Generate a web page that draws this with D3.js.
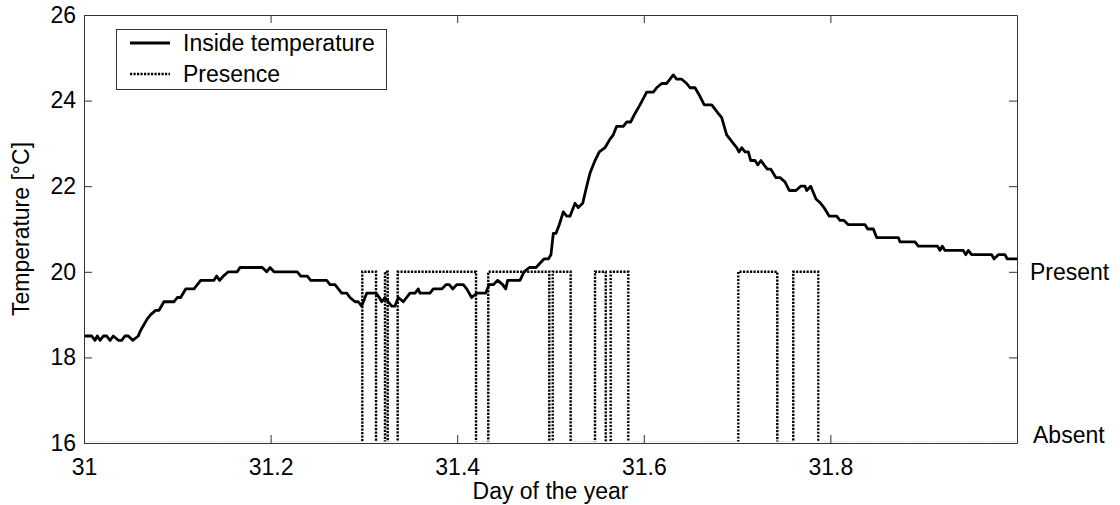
<!DOCTYPE html>
<html>
<head>
<meta charset="utf-8">
<script src="https://cdn.jsdelivr.net/npm/d3@7"></script>
<style>
  body { margin: 0; background: #fff; }
  text { font-family: "Liberation Sans", Arial, Helvetica, sans-serif; }
</style>
</head>
<body>
<div id="chart"></div>
<script>
var width = 1120;
var height = 505;

// Inside temperature (day of year, degC)
var tempDay = [
  31.0000, 31.0083, 31.0118, 31.0143, 31.0172, 31.0207, 31.0243, 31.0279, 31.0314, 31.0368,
  31.0404, 31.0439, 31.0475, 31.0522, 31.0582, 31.0600, 31.0625, 31.0678, 31.0715, 31.0768,
  31.0804, 31.0857, 31.0965, 31.1000, 31.1036, 31.1090, 31.1179, 31.1251, 31.1393, 31.1422,
  31.1454, 31.1493, 31.1547, 31.1643, 31.1672, 31.1911, 31.1958, 31.1994, 31.2036, 31.2286,
  31.2323, 31.2393, 31.2430, 31.2601, 31.2637, 31.2690, 31.2726, 31.2762, 31.2816, 31.2851,
  31.2905, 31.2940, 31.2976, 31.3030, 31.3101, 31.3130, 31.3165, 31.3191, 31.3226, 31.3261,
  31.3298, 31.3333, 31.3369, 31.3422, 31.3494, 31.3548, 31.3583, 31.3601, 31.3708, 31.3744,
  31.3834, 31.3880, 31.3915, 31.3952, 31.3995, 31.4065, 31.4102, 31.4155, 31.4209, 31.4305,
  31.4341, 31.4387, 31.4434, 31.4488, 31.4520, 31.4541, 31.4673, 31.4716, 31.4773, 31.4845,
  31.4887, 31.4930, 31.4976, 31.5005, 31.5030, 31.5059, 31.5094, 31.5137, 31.5174, 31.5209,
  31.5263, 31.5298, 31.5345, 31.5388, 31.5423, 31.5477, 31.5523, 31.5584, 31.5638, 31.5673,
  31.5709, 31.5780, 31.5817, 31.5859, 31.5906, 31.5959, 31.6031, 31.6102, 31.6138, 31.6192,
  31.6245, 31.6281, 31.6316, 31.6352, 31.6406, 31.6460, 31.6495, 31.6549, 31.6602, 31.6648,
  31.6728, 31.6798, 31.6835, 31.6888, 31.6924, 31.6959, 31.6996, 31.7020, 31.7049, 31.7085,
  31.7120, 31.7146, 31.7192, 31.7221, 31.7256, 31.7288, 31.7324, 31.7360, 31.7417, 31.7460,
  31.7513, 31.7559, 31.7631, 31.7681, 31.7728, 31.7746, 31.7789, 31.7846, 31.7896, 31.7931,
  31.7988, 31.8067, 31.8103, 31.8146, 31.8192, 31.8371, 31.8400, 31.8460, 31.8496, 31.8728,
  31.8746, 31.8907, 31.8942, 31.9146, 31.9175, 31.9199, 31.9228, 31.9424, 31.9450, 31.9478,
  31.9514, 31.9729, 31.9753, 31.9800, 31.9871, 31.9896, 32.0000
];
var tempValue = [
  18.5, 18.5, 18.4, 18.5, 18.4, 18.5, 18.5, 18.4, 18.5, 18.4,
  18.4, 18.5, 18.5, 18.4, 18.5, 18.6, 18.7, 18.9, 19.0, 19.1,
  19.1, 19.3, 19.3, 19.4, 19.4, 19.6, 19.6, 19.8, 19.8, 19.9,
  19.8, 19.9, 20.0, 20.0, 20.1, 20.1, 20.0, 20.1, 20.0, 20.0,
  19.9, 19.9, 19.8, 19.8, 19.7, 19.7, 19.6, 19.5, 19.5, 19.4,
  19.3, 19.3, 19.2, 19.5, 19.5, 19.5, 19.4, 19.3, 19.4, 19.3,
  19.2, 19.2, 19.4, 19.3, 19.5, 19.5, 19.6, 19.5, 19.5, 19.6,
  19.6, 19.7, 19.7, 19.6, 19.7, 19.7, 19.6, 19.4, 19.5, 19.5,
  19.7, 19.7, 19.8, 19.7, 19.6, 19.8, 19.8, 20.0, 20.1, 20.1,
  20.2, 20.3, 20.3, 20.4, 20.9, 20.9, 21.1, 21.4, 21.3, 21.3,
  21.6, 21.5, 21.6, 22.0, 22.3, 22.6, 22.8, 22.9, 23.1, 23.2,
  23.4, 23.4, 23.5, 23.5, 23.7, 23.9, 24.2, 24.2, 24.3, 24.4,
  24.4, 24.5, 24.6, 24.5, 24.5, 24.4, 24.3, 24.3, 24.1, 23.9,
  23.9, 23.7, 23.6, 23.2, 23.1, 23.0, 22.9, 22.8, 22.9, 22.8,
  22.8, 22.6, 22.6, 22.5, 22.6, 22.5, 22.4, 22.4, 22.2, 22.2,
  22.1, 21.9, 21.9, 22.0, 22.0, 21.9, 22.0, 21.7, 21.6, 21.5,
  21.3, 21.3, 21.2, 21.2, 21.1, 21.1, 21.0, 21.0, 20.8, 20.8,
  20.7, 20.7, 20.6, 20.6, 20.5, 20.6, 20.5, 20.5, 20.4, 20.5,
  20.4, 20.4, 20.3, 20.4, 20.4, 20.3, 20.3
];

// Presence intervals (day of year): person arrives / leaves
var presenceOn  = [31.2983, 31.3226, 31.3362, 31.4333, 31.5024, 31.5477, 31.5645, 31.7013, 31.7602];
var presenceOff = [31.3130, 31.3255, 31.4202, 31.4987, 31.5216, 31.5592, 31.5834, 31.7431, 31.7870];
var presentLevel = 20;
var absentLevel = 16;

var xTicks = [31, 31.2, 31.4, 31.6, 31.8];
var yTicks = [16, 18, 20, 22, 24, 26];
var legendLabels = ["Inside temperature", "Presence"];

var margin = { left: 84, right: 1017, top: 15, bottom: 443 };

var svg = d3.select("#chart")
  .append("svg")
  .attr("width", width)
  .attr("height", height);

var xScale = d3.scaleLinear().domain([31, 32]).range([margin.left, margin.right]);
var yScale = d3.scaleLinear().domain([16, 26]).range([margin.bottom, margin.top]);

// clip so the "absent" stretch sits under the bottom axis line
svg.append("defs").append("clipPath")
  .attr("id", "clip")
  .append("rect")
  .attr("x", margin.left)
  .attr("y", margin.top)
  .attr("width", margin.right - margin.left)
  .attr("height", margin.bottom - margin.top - 1.5);

// build the step curve from the intervals
var presence = [[31, absentLevel]];
presenceOn.forEach(function (t, i) {
  presence.push([t, absentLevel], [t, presentLevel],
    [presenceOff[i], presentLevel], [presenceOff[i], absentLevel]);
});
presence.push([32, absentLevel]);

var temperature = tempDay.map(function (d, i) { return [d, tempValue[i]]; });

var line = d3.line()
  .x(function (d) { return xScale(d[0]); })
  .y(function (d) { return yScale(d[1]); });

var plot = svg.append("g").attr("clip-path", "url(#clip)");

plot.append("path")
  .datum(presence)
  .attr("fill", "none")
  .attr("stroke", "#000")
  .attr("stroke-width", 2.4)
  .attr("stroke-dasharray", "2.2,1.3")
  .attr("d", line);

plot.append("path")
  .datum(temperature)
  .attr("fill", "none")
  .attr("stroke", "#000")
  .attr("stroke-width", 2.8)
  .attr("stroke-linejoin", "round")
  .attr("d", line);

// axes, ticks pointing inward on all four sides (box)
var axisColor = "#333";
function styleAxis(g) {
  g.selectAll("path, line").attr("stroke", axisColor);
  g.selectAll("text").attr("fill", "#000").style("font-size", "23px");
  g.attr("font-family", null);
}

svg.append("g")
  .attr("transform", "translate(0," + margin.bottom + ")")
  .call(d3.axisBottom(xScale).tickValues(xTicks).tickFormat(d3.format("~g"))
    .tickSizeInner(-8).tickSizeOuter(0).tickPadding(16))
  .call(styleAxis);

svg.append("g")
  .attr("transform", "translate(0," + margin.top + ")")
  .call(d3.axisTop(xScale).tickValues(xTicks).tickFormat("")
    .tickSizeInner(-8).tickSizeOuter(0))
  .call(styleAxis);

svg.append("g")
  .attr("transform", "translate(" + margin.left + ",0)")
  .call(d3.axisLeft(yScale).tickValues(yTicks)
    .tickSizeInner(-8).tickSizeOuter(0).tickPadding(8))
  .call(styleAxis);

svg.append("g")
  .attr("transform", "translate(" + margin.right + ",0)")
  .call(d3.axisRight(yScale).tickValues(yTicks).tickFormat("")
    .tickSizeInner(-8).tickSizeOuter(0))
  .call(styleAxis);

// axis titles
svg.append("text")
  .attr("x", (margin.left + margin.right) / 2)
  .attr("y", 499)
  .attr("text-anchor", "middle")
  .style("font-size", "23px")
  .text("Day of the year");

svg.append("text")
  .attr("transform", "translate(29," + ((margin.top + margin.bottom) / 2) + ") rotate(-90)")
  .attr("text-anchor", "middle")
  .style("font-size", "23px")
  .text("Temperature [°C]");

// presence levels on the right
svg.append("text")
  .attr("x", 1030)
  .attr("y", yScale(presentLevel))
  .attr("dy", "0.35em")
  .style("font-size", "23px")
  .text("Present");

svg.append("text")
  .attr("x", 1033)
  .attr("y", yScale(absentLevel))
  .style("font-size", "23px")
  .text("Absent");

// legend
var legend = svg.append("g").attr("class", "legend");
legend.append("rect")
  .attr("x", 116.5)
  .attr("y", 29.5)
  .attr("width", 270)
  .attr("height", 60)
  .attr("fill", "#fff")
  .attr("stroke", axisColor);

legendLabels.forEach(function (label, i) {
  var ly = 43 + i * 31;
  legend.append("line")
    .attr("x1", 130).attr("x2", 170)
    .attr("y1", ly).attr("y2", ly)
    .attr("stroke", "#000")
    .attr("stroke-width", i === 0 ? 2.8 : 2.4)
    .attr("stroke-dasharray", i === 0 ? null : "2.2,1.3");
  legend.append("text")
    .attr("x", 183)
    .attr("y", ly)
    .attr("dy", "0.35em")
    .style("font-size", "23px")
    .text(label);
});
</script>
</body>
</html>
